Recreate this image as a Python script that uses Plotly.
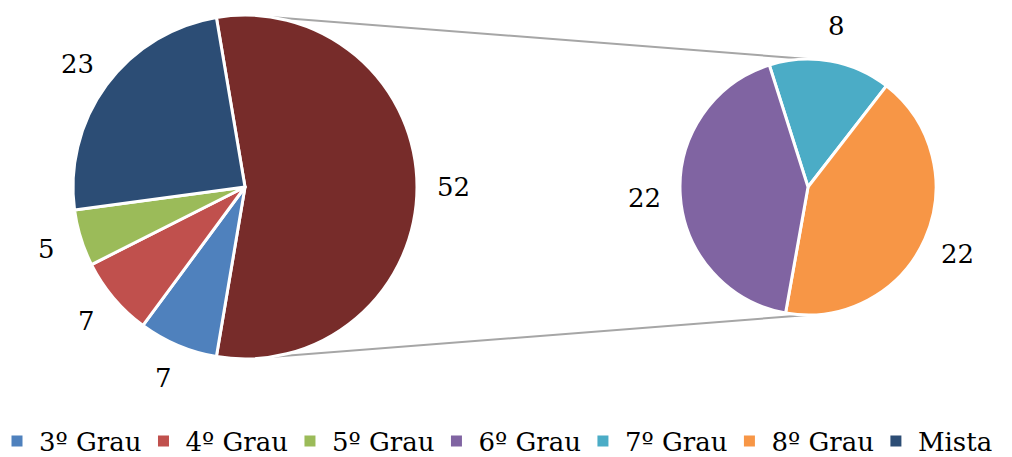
import math
import plotly.graph_objects as go

# ---- data ----
main_labels = ["Outros", "3º Grau", "4º Grau", "5º Grau", "Mista"]
main_values = [52, 7, 7, 5, 23]
sub_labels = ["7º Grau", "8º Grau", "6º Grau"]
sub_values = [8, 22, 22]
legend_labels = ["3º Grau", "4º Grau", "5º Grau", "6º Grau", "7º Grau", "8º Grau", "Mista"]

colors = {
    "Outros": "#772C2A",
    "3º Grau": "#4F81BD",
    "4º Grau": "#C0504D",
    "5º Grau": "#9BBB59",
    "6º Grau": "#8064A2",
    "7º Grau": "#4BACC6",
    "8º Grau": "#F79646",
    "Mista": "#2C4D75",
}

W, H = 1012, 457
FONT = "DejaVu Serif"
FS = 26

# geometry (pixels)
main_c, main_r = (245, 187), 172
sub_c, sub_r = (808, 187), 128

def px2paper(x, y):
    return x / W, 1 - y / H

def domain(c, r):
    x0, y1 = px2paper(c[0] - r, c[1] - r)
    x1, y0 = px2paper(c[0] + r, c[1] + r)
    return dict(x=[x0, x1], y=[y0, y1])

main_total = sum(main_values)
rot_main = 90 - main_values[0] / main_total * 180
rot_sub = -17.6

fig = go.Figure()
fig.add_trace(go.Pie(
    labels=main_labels, values=main_values, sort=False, direction="clockwise",
    rotation=rot_main, domain=domain(main_c, main_r), textinfo="none",
    hoverinfo="label+value", showlegend=False,
    marker=dict(colors=[colors[l] for l in main_labels], line=dict(color="white", width=3)),
))
fig.add_trace(go.Pie(
    labels=sub_labels, values=sub_values, sort=False, direction="clockwise",
    rotation=rot_sub, domain=domain(sub_c, sub_r), textinfo="none",
    hoverinfo="label+value", showlegend=False,
    marker=dict(colors=[colors[l] for l in sub_labels], line=dict(color="white", width=3)),
))

# legend entries
for l in legend_labels:
    fig.add_trace(go.Scatter(
        x=[None], y=[None], mode="markers", name=l,
        marker=dict(symbol="square", size=11, color=colors[l]),
    ))

annotations = []
def add_labels(c, r, values, rot, offset=36):
    total = sum(values)
    ang = rot
    for v in values:
        span = v / total * 360
        mid = math.radians(ang + span / 2)
        x = c[0] + (r + offset) * math.sin(mid)
        y = c[1] - (r + offset) * math.cos(mid)
        xp, yp = px2paper(x, y)
        annotations.append(dict(x=xp, y=yp, xref="paper", yref="paper", text=str(v),
                                showarrow=False, xanchor="center", yanchor="middle",
                                font=dict(family=FONT, size=FS, color="#000000")))
        ang += span

add_labels(main_c, main_r, main_values, rot_main)
add_labels(sub_c, sub_r, sub_values, rot_sub)

# connector lines (main top/bottom -> secondary top/bottom)
shapes = []
for sgn in (-1, 1):
    x0, y0 = px2paper(main_c[0], main_c[1] + sgn * main_r)
    x1, y1 = px2paper(sub_c[0], sub_c[1] + sgn * sub_r)
    shapes.append(dict(type="line", xref="paper", yref="paper", x0=x0, y0=y0, x1=x1, y1=y1,
                       line=dict(color="#A6A6A6", width=2), layer="below"))

fig.update_layout(
    width=W, height=H, margin=dict(l=0, r=0, t=0, b=0, autoexpand=False),
    paper_bgcolor="white", plot_bgcolor="white",
    xaxis=dict(visible=False), yaxis=dict(visible=False),
    annotations=annotations, shapes=shapes,
    legend=dict(orientation="h", x=0, xanchor="left", y=1 - 441 / H, yanchor="middle",
                font=dict(family=FONT, size=FS, color="#000000"),
                itemclick=False, itemwidth=34, indentation=-5,
                borderwidth=0, bgcolor="rgba(0,0,0,0)"),
    showlegend=True,
)

fig.write_html("out.html")
